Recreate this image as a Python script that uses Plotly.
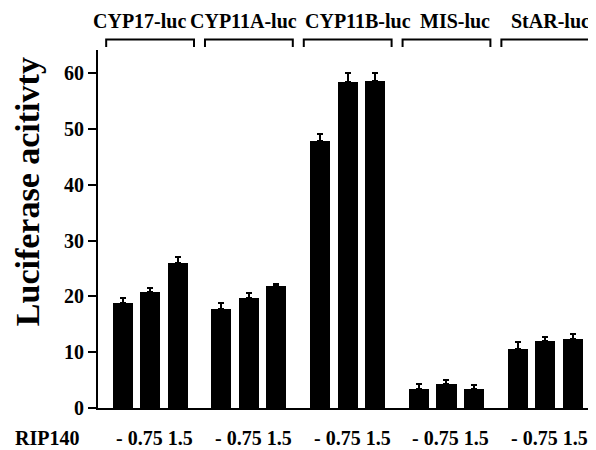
import plotly.graph_objects as go

promoters = ["CYP17-luc", "CYP11A-luc", "CYP11B-luc", "MIS-luc", "StAR-luc"]
doses = ["-", "0.75", "1.5"]
activity = [
    [18.8, 20.8, 26.0],
    [17.8, 19.8, 21.9],
    [47.8, 58.4, 58.7],
    [3.35, 4.35, 3.35],
    [10.5, 12.0, 12.4],
]
errors = [
    [0.9, 0.8, 1.1],
    [1.0, 0.9, 0.4],
    [1.3, 1.7, 1.4],
    [1.0, 0.7, 0.7],
    [1.4, 0.8, 0.8],
]
y_ticks = [0, 10, 20, 30, 40, 50, 60]
row_label = "RIP140"
y_title = "Luciferase acitivty"

GROUP_STEP = 3.6
FONT = "Liberation Serif"

xs, ys, es = [], [], []
for g, vals in enumerate(activity):
    for j, v in enumerate(vals):
        xs.append(g * GROUP_STEP + j)
        ys.append(v)
        es.append(errors[g][j])

fig = go.Figure()
fig.add_trace(go.Bar(
    x=xs, y=ys, width=0.73,
    marker=dict(color="black", line=dict(width=0)),
    error_y=dict(type="data", array=es, arrayminus=[0] * len(es),
                 color="black", thickness=2, width=3),
    showlegend=False,
))

label_shift = [-10.7, -5.2, 10.3, 8.8, 5.3]
annotations = []
shapes = []
for g, name in enumerate(promoters):
    c = g * GROUP_STEP + 1
    x0, x1 = c - 1.6, c + 1.6
    shapes.append(dict(
        type="path", xref="x", yref="paper",
        path=f"M {x0} 1.0084 L {x0} 1.0293 L {x1} 1.0293 L {x1} 1.0084",
        line=dict(color="black", width=2),
    ))
    annotations.append(dict(
        x=c, xref="x", y=1.081, yref="paper", text=name, showarrow=False,
        xanchor="center", yanchor="middle", xshift=label_shift[g],
        font=dict(family=FONT, size=20, color="black", weight="bold"),
    ))
    annotations.append(dict(
        x=c, xref="x", y=0, yref="paper", yshift=-30,
        text=" ".join(doses), showarrow=False,
        xanchor="center", yanchor="middle", xshift=4.5,
        font=dict(family=FONT, size=20, color="black", weight="bold"),
    ))

annotations.append(dict(
    x=-0.1038, xref="paper", y=0, yref="paper", yshift=-30,
    text=row_label, showarrow=False, xanchor="center", yanchor="middle",
    font=dict(family=FONT, size=20, color="black", weight="bold"),
))
annotations.append(dict(
    x=-0.143, xref="paper", y=0.603, yref="paper", text=y_title,
    showarrow=False, textangle=-90, xanchor="center", yanchor="middle",
    borderpad=0,
    font=dict(family=FONT, size=34, color="black", weight="bold"),
))

# the page body adds an 8px offset, so the figure is 8px smaller and shifted
fig.update_layout(
    width=588, height=442,
    margin=dict(l=90, r=2, t=42, b=42),
    paper_bgcolor="white", plot_bgcolor="white",
    bargap=0,
    shapes=shapes, annotations=annotations,
    xaxis=dict(range=[-0.898, 17.175], showticklabels=False, ticks="",
               showgrid=False, zeroline=False, showline=True,
               linecolor="black", linewidth=2),
    yaxis=dict(range=[0, 64.2], tickvals=y_ticks, ticks="outside",
               ticklen=8, tickwidth=2, tickcolor="black",
               showgrid=False, zeroline=False, showline=True,
               linecolor="black", linewidth=2,
               tickfont=dict(family=FONT, size=20, color="black", weight="bold")),
)

fig.write_html("out.html")
